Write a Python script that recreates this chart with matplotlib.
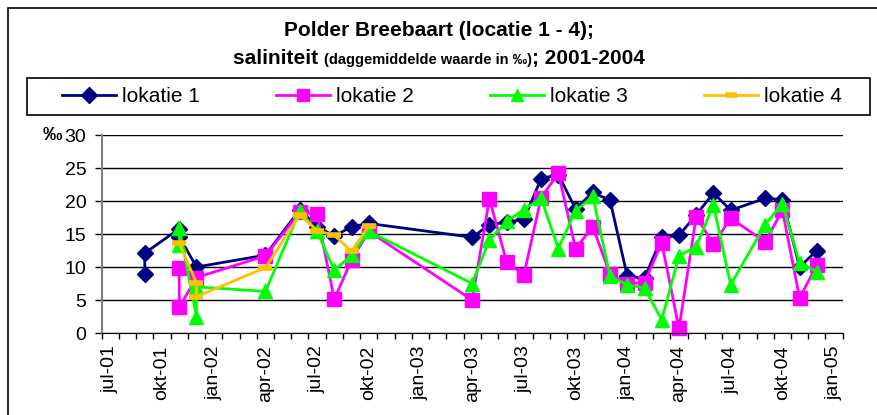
import matplotlib
matplotlib.use("Agg")
import matplotlib.pyplot as plt
import numpy as np
from matplotlib.patches import Rectangle
from matplotlib.lines import Line2D

plt.rcParams['font.family'] = ['Liberation Sans', 'DejaVu Sans']

# measurements per location: month (yyyy-mm) and daily mean salinity (promille)
months_1 = ["2001-09", "2001-09", "2001-11", "2001-11", "2001-12", "2002-04", "2002-06",
            "2002-07", "2002-08", "2002-09", "2002-10", "2003-04", "2003-05", "2003-06",
            "2003-07", "2003-08", "2003-09", "2003-10", "2003-11", "2003-12", "2004-01",
            "2004-02", "2004-03", "2004-04", "2004-05", "2004-06", "2004-07", "2004-09",
            "2004-10", "2004-11", "2004-12"]
values_1 = [9.0, 12.1, 15.8, 14.6, 10.0, 11.8, 18.7,
            16.1, 14.7, 16.1, 16.6, 14.5, 16.4, 16.8,
            17.2, 23.4, 24.0, 18.8, 21.3, 20.1, 8.6,
            8.3, 14.5, 14.8, 17.9, 21.2, 18.6, 20.4,
            20.2, 10.0, 12.5]

months_2 = ["2001-11", "2001-11", "2001-12", "2002-04", "2002-06", "2002-07", "2002-08",
            "2002-09", "2002-10", "2003-04", "2003-05", "2003-06", "2003-07", "2003-08",
            "2003-09", "2003-10", "2003-11", "2003-12", "2004-01", "2004-02", "2004-03",
            "2004-04", "2004-05", "2004-06", "2004-07", "2004-09", "2004-10", "2004-11",
            "2004-12"]
values_2 = [9.8, 3.9, 8.4, 11.7, 18.3, 18.0, 5.1,
            11.1, 15.4, 5.0, 20.3, 10.8, 8.8, 20.5,
            24.2, 12.8, 16.1, 8.9, 7.5, 7.6, 13.7,
            0.7, 17.6, 13.5, 17.4, 13.8, 18.6, 5.3,
            10.3]

months_3 = ["2001-11", "2001-11", "2001-12", "2001-12", "2002-04", "2002-06", "2002-07",
            "2002-08", "2002-09", "2002-10", "2003-04", "2003-05", "2003-06", "2003-07",
            "2003-08", "2003-09", "2003-10", "2003-11", "2003-12", "2004-01", "2004-02",
            "2004-03", "2004-04", "2004-05", "2004-06", "2004-07", "2004-09", "2004-10",
            "2004-11", "2004-12"]
values_3 = [13.3, 15.9, 2.5, 7.0, 6.3, 18.5, 15.4,
            9.5, 11.8, 15.4, 7.5, 14.1, 16.9, 18.7,
            20.4, 12.8, 18.5, 20.7, 8.6, 7.3, 6.8,
            2.0, 11.7, 13.1, 19.4, 7.3, 16.4, 19.6,
            10.6, 9.3]

months_4 = ["2001-11", "2001-12", "2001-12", "2002-04", "2002-06", "2002-07", "2002-08",
            "2002-09", "2002-10"]
values_4 = [13.6, 7.6, 5.5, 9.9, 17.9, 15.5, 14.8,
            12.4, 16.2]

tick_labels = ["jul-01", "okt-01", "jan-02", "apr-02", "jul-02", "okt-02", "jan-03",
               "apr-03", "jul-03", "okt-03", "jan-04", "apr-04", "jul-04", "okt-04", "jan-05"]


def month_pos(m):
    # category axis: one slot per month starting jul-01, points in the middle of the slot
    y, mo = m.split("-")
    return (int(y) - 2001) * 12 + int(mo) - 7 + 0.5


W, H = 877, 415
fig = plt.figure(figsize=(W / 100, H / 100), dpi=100)
ax = fig.add_axes([101.7 / W, 1 - 333 / H, 741 / W, 198 / H])

series = [
    (months_1, values_1, "lokatie 1", "#000080", "D", 8.5, {}),
    (months_2, values_2, "lokatie 2", "#FF00FF", "s", 10, {}),
    (months_3, values_3, "lokatie 3", "#00FF00", "^", 10, {}),
    (months_4, values_4, "lokatie 4", "#FFC000", "_", 10, {"markeredgewidth": 4}),
]
handles = []
for months, vals, name, col, mk, ms, extra in series:
    x = [month_pos(m) for m in months]
    ax.plot(x, vals, color=col, lw=2.0, marker=mk, ms=ms, mfc=col, mec=col, clip_on=False, **extra)
    handles.append(Line2D([], [], color=col, lw=2.0, marker=mk, ms=ms * 0.9, mfc=col, mec=col, **extra))

ax.set_xlim(0, 43)
ax.set_ylim(0, 30)
ax.set_yticks(range(0, 31, 5))
ax.yaxis.grid(True, color="black", lw=1)
ax.set_axisbelow(True)
ax.set_xticks(np.arange(0, 44), minor=True)
ax.set_xticks(np.arange(0, 43, 3) + 0.5)
ax.set_xticklabels(tick_labels, rotation=90, fontsize=14)
ax.tick_params(axis="x", which="major", length=0, pad=9)
ax.tick_params(axis="x", which="minor", length=4, width=1, color="black")
ax.tick_params(axis="y", length=5, width=1, labelsize=14, pad=6, color="black")
for s in ["top", "right"]:
    ax.spines[s].set_visible(False)
ax.spines["left"].set_color("#808080")
ax.spines["left"].set_linewidth(1.5)
ax.spines["bottom"].set_color("black")

fig.text(62 / W, 1 - 136 / H, "‰", fontsize=14, fontweight="bold", ha="right", va="center")

# titles
fig.text(0.5, 1 - 30 / H, "Polder Breebaart (locatie 1 - 4);", fontsize=15, fontweight="bold",
         ha="center", va="center")
parts = [("saliniteit ", 15), ("(daggemiddelde waarde in ‰)", 10.5), ("; 2001-2004", 15)]
texts = [fig.text(0, 1 - 64 / H, p, fontsize=fs, fontweight="bold", ha="left", va="baseline")
         for p, fs in parts]
fig.canvas.draw()
r = fig.canvas.get_renderer()
widths = [t.get_window_extent(r).width for t in texts]
x0 = (W - sum(widths)) / 2
for t, w in zip(texts, widths):
    t.set_x(x0 / W)
    x0 += w

# legend: frame drawn separately, entries spread between the first handle and the last label
leg = fig.legend(handles=handles, labels=[h[2] for h in series], ncol=4, loc="center left",
                 bbox_to_anchor=(62 / W, 1 - 115 / H, 780 / W, 37 / H), mode="expand",
                 fontsize=15, frameon=False, handlelength=2.6, handletextpad=0.3,
                 borderaxespad=0, borderpad=0)
fig.patches.append(Rectangle((27 / W, 1 - 115 / H), 843 / W, 37 / H, transform=fig.transFigure,
                             fill=False, edgecolor="black", lw=1.2))

# chart border
fig.patches.append(Rectangle((8 / W, -0.1), 1.0, 1.1 - 8 / H, transform=fig.transFigure,
                             fill=False, edgecolor="black", lw=1.2))

fig.savefig("out.png", dpi=100)
